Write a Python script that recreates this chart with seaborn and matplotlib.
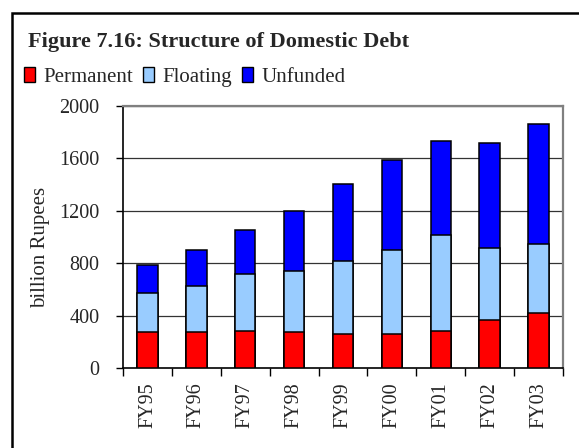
import matplotlib
matplotlib.use("Agg")
import matplotlib.pyplot as plt
import seaborn as sns
import pandas as pd
import numpy as np
from matplotlib.patches import Patch, Rectangle

years = ["FY95", "FY96", "FY97", "FY98", "FY99", "FY00", "FY01", "FY02", "FY03"]
permanent = [275, 275, 285, 275, 260, 260, 285, 370, 423]
floating = [295, 354, 433, 469, 553, 637, 729, 545, 520]
unfunded = [217, 273, 337, 456, 591, 693, 719, 805, 922]
yticks = [0, 400, 800, 1200, 1600, 2000]

sns.set_theme(style="white")
plt.rcParams['font.family'] = ['Liberation Serif', 'DejaVu Serif']

df = pd.DataFrame({"year": years, "Permanent": permanent,
                   "Floating": floating, "Unfunded": unfunded})
df["cum_float"] = df["Permanent"] + df["Floating"]
df["total"] = df["cum_float"] + df["Unfunded"]

W, H = 579, 448
fig = plt.figure(figsize=(W / 100, H / 100), dpi=100)
fig.patch.set_facecolor("white")
# outer frame
fig.patches.append(Rectangle((12 / W, -0.1), 1.2, 0.1 + (H - 13.5) / H,
                             transform=fig.transFigure, fill=False,
                             edgecolor="black", linewidth=1.8, zorder=0))

ax = fig.add_axes([123 / W, (H - 368) / H, (563 - 123) / W, (368 - 106) / H])

c_perm, c_float, c_unf = "#FF0000", "#99CCFF", "#0000FF"
kw = dict(width=0.42, edgecolor="black", linewidth=1.1, saturation=1, ax=ax, zorder=3)
sns.barplot(data=df, x="year", y="total", color=c_unf, **kw)
sns.barplot(data=df, x="year", y="cum_float", color=c_float, **kw)
sns.barplot(data=df, x="year", y="Permanent", color=c_perm, **kw)

ax.set_ylim(0, 2000)
ax.set_xlim(-0.5, len(years) - 0.5)
ax.set_yticks(yticks)
ax.set_yticklabels([str(v) for v in yticks], fontsize=14.5)
ax.set_xticks(range(len(years)))
ax.set_xticklabels(years, rotation=90, fontsize=14.5)
ax.tick_params(axis="x", length=0, pad=10)
ax.tick_params(axis="y", length=5, width=1, color="black", direction="out", left=True, pad=12)
# x boundary ticks
ax.set_xticks(np.arange(-0.5, len(years)), minor=True)
ax.tick_params(axis="x", which="minor", length=6, width=1, color="black",
               direction="out", bottom=True)
ax.set_xlabel("")
ax.set_ylabel("")
fig.text(41 / W, 1 - 247 / H, "billion Rupees", fontsize=15, rotation=90,
         ha="center", va="center")

for y in yticks[1:]:
    ax.axhline(y, color="#333333", linewidth=0.9, zorder=1)

for side in ["left", "bottom"]:
    ax.spines[side].set_color("black")
    ax.spines[side].set_linewidth(1.2)
for side in ["top", "right"]:
    ax.spines[side].set_visible(True)
    ax.spines[side].set_color("#808080")
    ax.spines[side].set_linewidth(1.6)

fig.text(28 / W, 1 - 47 / H, "Figure 7.16: Structure of Domestic Debt",
         fontsize=16, fontweight="bold", va="baseline", ha="left")

handles = [Patch(facecolor=c_perm, edgecolor="black", linewidth=1.0, label="Permanent"),
           Patch(facecolor=c_float, edgecolor="black", linewidth=1.0, label="Floating"),
           Patch(facecolor=c_unf, edgecolor="black", linewidth=1.0, label="Unfunded")]
fig.legend(handles=handles, loc="center left", bbox_to_anchor=(24 / W, 1 - 77 / H),
           ncol=3, frameon=False, fontsize=15, handlelength=0.55, handleheight=0.7,
           handletextpad=0.4, columnspacing=0.45, borderaxespad=0, borderpad=0)

fig.savefig("out.png", dpi=100, facecolor="white")
